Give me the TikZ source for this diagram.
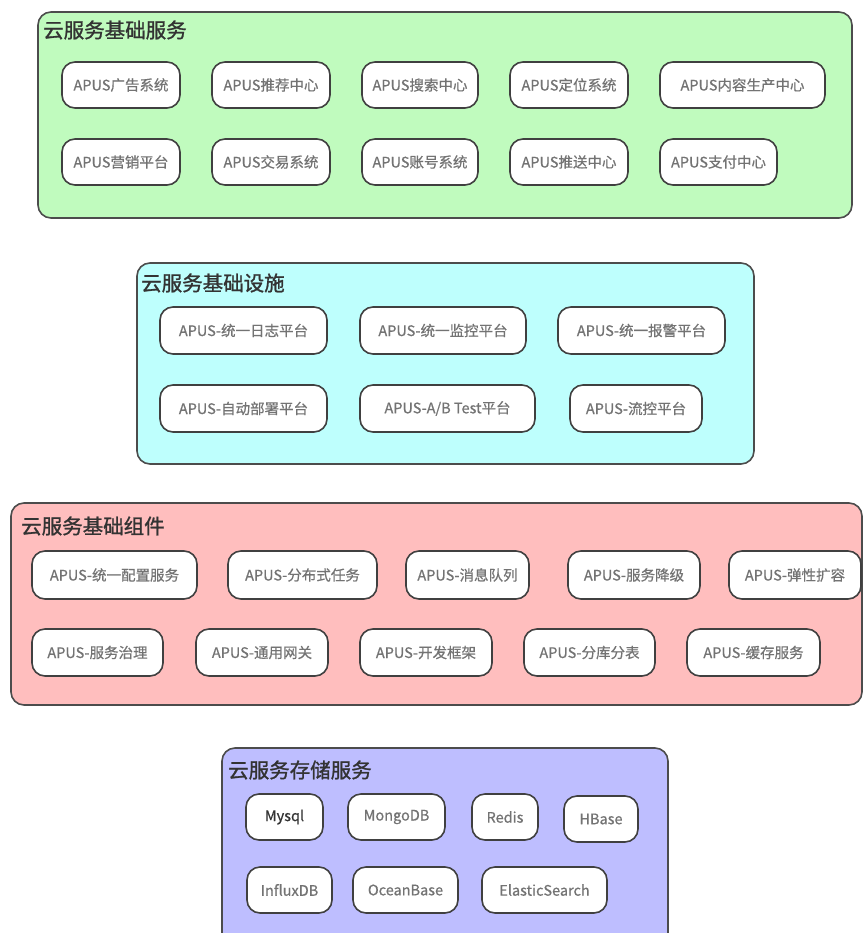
\documentclass[tikz,border=0pt]{standalone}
\usepackage{fontspec}
\setmainfont{Noto Sans CJK SC}
\newfontfamily\itemfont[FakeBold=0.6]{Noto Sans CJK SC}
\newfontfamily\titlefont[FakeBold=1.2]{Noto Sans CJK SC}
\begin{document}
\begin{tikzpicture}[x=1pt,y=-1pt,
  group/.style={draw=black!70,line width=1.6pt,rounded corners=13pt,inner sep=0pt},
  item/.style={draw=black!75,line width=1.6pt,fill=white,rounded corners=13pt,inner sep=0pt,
     text=black!55,font=\itemfont\fontsize{14.5}{15}\selectfont},
  ttl/.style={anchor=west,inner sep=0pt,text=black!80,font=\titlefont\fontsize{20.5}{22}\selectfont}]
\definecolor{cgreen}{RGB}{192,251,190}
\definecolor{ccyan}{RGB}{190,255,253}
\definecolor{cpink}{RGB}{255,190,190}
\definecolor{cpurple}{RGB}{190,190,255}
\useasboundingbox (0,0) rectangle (863,933);
\newcommand{\gbox}[6]{\node[group,fill=#6,minimum width={#4-#2},minimum height={#5-#3}] (#1) at ({(#2+#4)/2},{(#3+#5)/2}) {};}
\newcommand{\ibox}[6]{\node[item,minimum width={#4-#2},minimum height={#5-#3}] (#1) at ({(#2+#4)/2},{(#3+#5)/2}) {#6};}
% group 1
\gbox{g1}{38}{12}{852}{218}{cgreen}
\node[ttl] (t1) at (43,30) {云服务基础服务};
\ibox{a1}{62}{62}{180}{108}{APUS广告系统}
\ibox{a2}{212}{62}{330}{108}{APUS推荐中心}
\ibox{a3}{362}{62}{478}{108}{APUS搜索中心}
\ibox{a4}{510}{62}{628}{108}{APUS定位系统}
\ibox{a5}{660}{62}{825}{108}{APUS内容生产中心}
\ibox{a6}{62}{139}{180}{185}{APUS营销平台}
\ibox{a7}{212}{139}{330}{185}{APUS交易系统}
\ibox{a8}{362}{139}{478}{185}{APUS账号系统}
\ibox{a9}{510}{139}{628}{185}{APUS推送中心}
\ibox{a10}{660}{139}{777}{185}{APUS支付中心}
% group 2
\gbox{g2}{137}{263}{754}{464}{ccyan}
\node[ttl] (t2) at (141,283) {云服务基础设施};
\ibox{b1}{160}{307}{327}{354}{APUS-统一日志平台}
\ibox{b2}{360}{307}{526}{354}{APUS-统一监控平台}
\ibox{b3}{558}{307}{725}{354}{APUS-统一报警平台}
\ibox{b4}{160}{385}{327}{432}{APUS-自动部署平台}
\ibox{b5}{360}{385}{535}{432}{APUS-A/B Test平台}
\ibox{b6}{570}{385}{702}{432}{APUS-流控平台}
% group 3
\gbox{g3}{11}{503}{862}{705}{cpink}
\node[ttl] (t3) at (21,526) {云服务基础组件};
\ibox{c1}{32}{551}{197}{599}{APUS-统一配置服务}
\ibox{c2}{228}{551}{377}{599}{APUS-分布式任务}
\ibox{c3}{406}{551}{529}{599}{APUS-消息队列}
\ibox{c4}{568}{551}{700}{599}{APUS-服务降级}
\ibox{c5}{729}{551}{861}{599}{APUS-弹性扩容}
\ibox{c6}{32}{629}{163}{676}{APUS-服务治理}
\ibox{c7}{196}{629}{328}{676}{APUS-通用网关}
\ibox{c8}{360}{629}{492}{676}{APUS-开发框架}
\ibox{c9}{524}{629}{655}{676}{APUS-分库分表}
\ibox{c10}{687}{629}{820}{676}{APUS-缓存服务}
% group 4
\gbox{g4}{222}{748}{668}{948}{cpurple}
\node[ttl] (t4) at (228,770) {云服务存储服务};
\ibox{d1}{246}{794}{323}{840}{\textcolor{black!80}{Mysql}}
\ibox{d2}{348}{794}{445}{840}{MongoDB}
\ibox{d3}{472}{794}{538}{840}{Redis}
\ibox{d4}{564}{796}{638}{842}{HBase}
\ibox{d5}{247}{867}{332}{913}{InfluxDB}
\ibox{d6}{353}{867}{458}{913}{OceanBase}
\ibox{d7}{482}{867}{607}{913}{ElasticSearch}
\end{tikzpicture}
\end{document}
